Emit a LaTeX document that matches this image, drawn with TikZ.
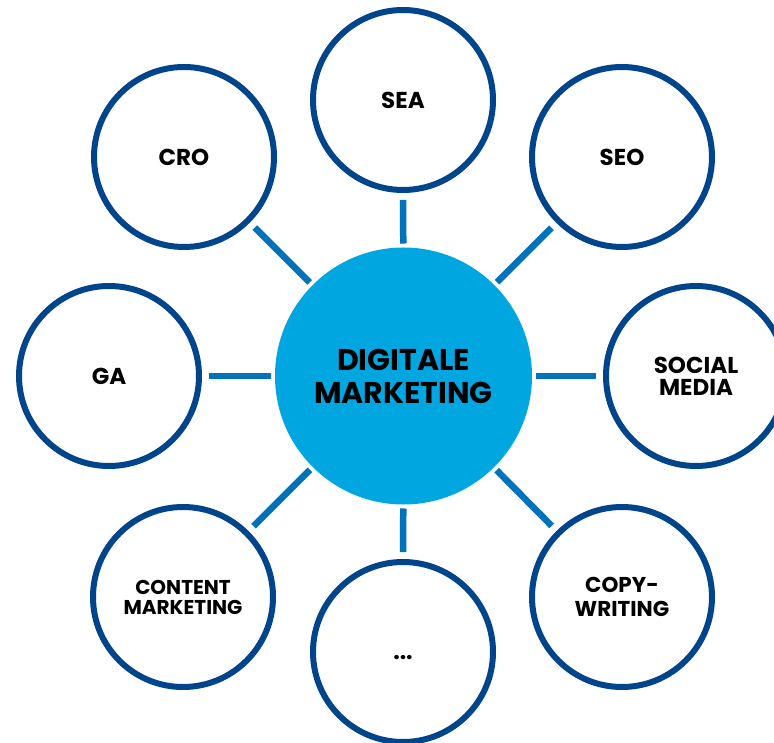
\documentclass[tikz,border=0pt]{standalone}
\usepackage{fontspec}
\setmainfont{Poppins}
\definecolor{ringblue}{RGB}{0,69,140}
\definecolor{spokeblue}{RGB}{0,114,188}
\definecolor{hubblue}{RGB}{0,166,224}
\begin{document}
\begin{tikzpicture}[x=1pt,y=-1pt,
 hub/.style={circle,fill=hubblue,minimum size=257pt,inner sep=0pt,outer sep=0pt,align=center,font=\bfseries\fontsize{30}{33}\selectfont},
 topic/.style={circle,draw=ringblue,line width=6pt,fill=white,minimum size=180pt,inner sep=0pt,outer sep=0pt,align=center,font=\bfseries\fontsize{23}{22}\selectfont},
 small/.style={font=\bfseries\fontsize{20}{20}\selectfont},
 spoke/.style={spokeblue,line width=6.5pt,shorten <=4pt,shorten >=10pt}]
 \useasboundingbox (0,0) rectangle (774,743);
 \node[hub] (hub) at (403.5,376) {DIGITALE\\MARKETING};
 \node[topic] (sea) at (403,100) {SEA};
 \node[topic] (seo) at (622,157) {SEO};
 \node[topic] (cro) at (184,157) {CRO};
 \node[topic] (ga) at (109,376) {GA};
 \node[topic] (social) at (696,376) {SOCIAL\\MEDIA};
 \node[topic,font=\bfseries\fontsize{21.5}{24}\selectfont] (copy) at (622,597) {COPY-\\WRITING};
 \node[topic,small] (content) at (183,597) {CONTENT\\MARKETING};
 \node[topic] (more) at (403,652) {...\vphantom{A}};
 \foreach \t in {sea,seo,social,copy,more,content,ga,cro}
  \draw[spoke] (hub) -- (\t);
\end{tikzpicture}
\end{document}
